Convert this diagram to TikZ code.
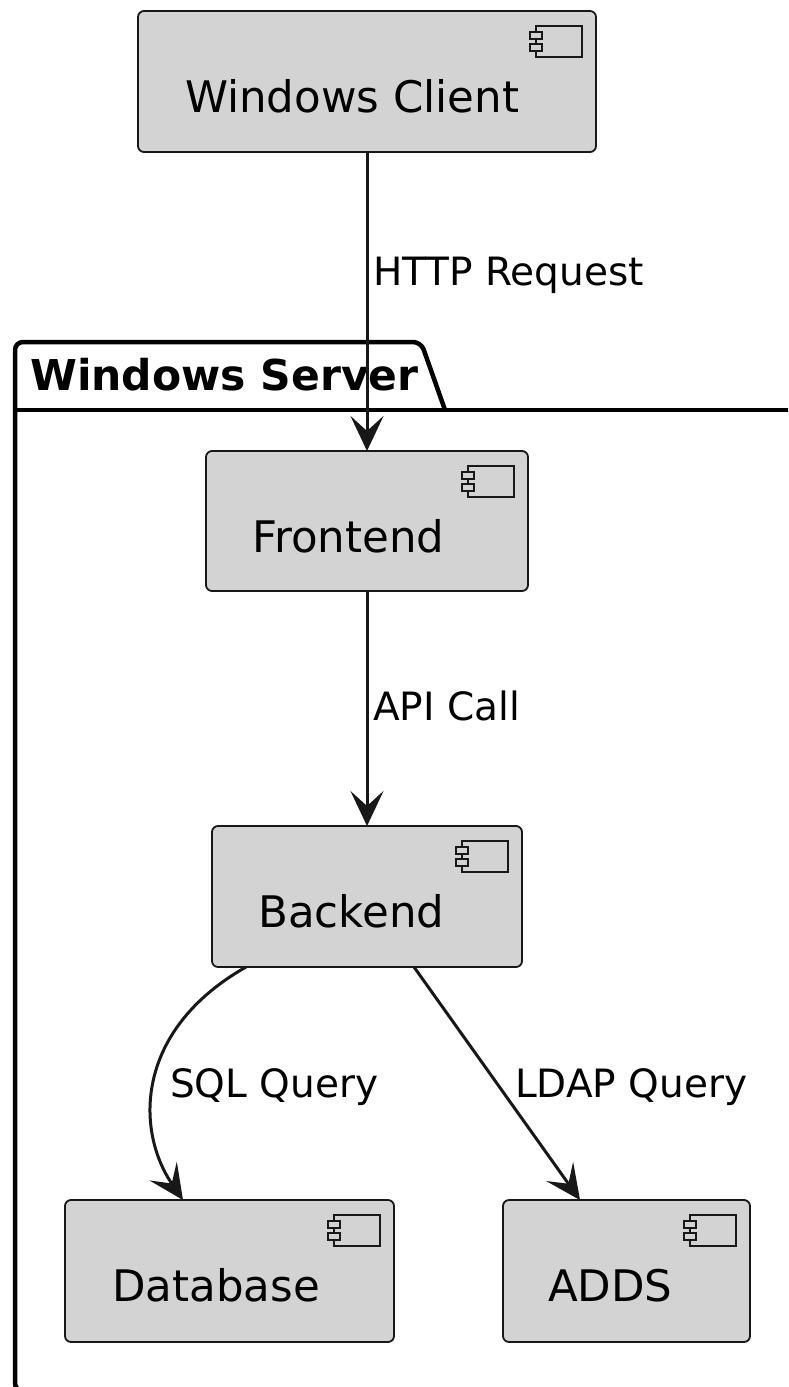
\documentclass[tikz,border=0pt]{standalone}
\usepackage{fontspec}
\setmainfont{DejaVu Sans}
\usetikzlibrary{arrows.meta,calc}
\definecolor{boxfill}{HTML}{D3D3D3}
\definecolor{ink}{HTML}{181818}
\tikzset{
 comp/.style={draw=ink, fill=boxfill, line width=1.8pt, rounded corners=6pt, inner sep=0pt, outer sep=0pt},
 ctext/.style={anchor=base west, inner sep=0pt, font=\fontsize{43.5}{52}\selectfont},
 elabel/.style={anchor=base west, inner sep=0pt, font=\fontsize{39}{46}\selectfont},
 conn/.style={draw=ink, line width=3pt, -{Stealth[length=35pt,width=33pt,inset=15pt]}},
 pkg/.style={draw=black, line width=4.5pt},
 icon/.style={draw=ink, line width=1.6pt, fill=boxfill}
}
\newcommand\compicon[1]{%
 \draw[icon] ($(#1.north east)+(-60,15)$) rectangle ($(#1.north east)+(-14,46)$);
 \draw[icon] ($(#1.north east)+(-66,21)$) rectangle ($(#1.north east)+(-54,28)$);
 \draw[icon] ($(#1.north east)+(-66,33)$) rectangle ($(#1.north east)+(-54,40)$);
}
\begin{document}
\begin{tikzpicture}[x=1pt,y=-1pt]
\useasboundingbox (0,0) rectangle (788,1387);
% package
\begin{scope}
\clip (0,0) rectangle (788,1387);
\draw[pkg, rounded corners=8pt] (820,1391) -- (15,1391) -- (15,342) -- (421,342) -- (445,410);
\draw[pkg] (15,410) -- (820,410);
\end{scope}
\node[font=\bfseries\fontsize{42.5}{50}\selectfont, anchor=base west, inner sep=0pt] (pkgt) at (30,390) {Windows Server};
% components
\node[comp, minimum width=458pt, minimum height=141pt] (wc) at (367,81.5) {};
\node[comp, minimum width=322pt, minimum height=140pt] (fe) at (367,521) {};
\node[comp, minimum width=310pt, minimum height=141pt] (be) at (367,896.5) {};
\node[comp, minimum width=329pt, minimum height=142pt] (db) at (229.5,1271) {};
\node[comp, minimum width=247pt, minimum height=142pt] (ad) at (626.5,1271) {};
\compicon{wc}
\compicon{fe}
\compicon{be}
\compicon{db}
\compicon{ad}
\node[ctext] (wct) at (185,112) {Windows Client};
\node[ctext] (fet) at (252,552) {Frontend};
\node[ctext] (bet) at (258,927) {Backend};
\node[ctext] (dbt) at (112,1301) {Database};
\node[ctext] (adt) at (548,1301) {ADDS};
% connectors
\draw[conn] (wc.south) -- (fe.north);
\draw[conn] (fe.south) -- (be.north);
\draw[conn] ([xshift=-121pt]be.south) .. controls (135,1030) and (135,1130) .. ([xshift=-46.5pt]db.north);
\draw[conn] ([xshift=47pt]be.south) -- ([xshift=-46.5pt]ad.north);
% labels
\node[elabel] (l1) at (373,285) {HTTP Request};
\node[elabel] (l2) at (373,720) {API Call};
\node[elabel] (l3) at (170,1097) {SQL Query};
\node[elabel] (l4) at (515,1097) {LDAP Query};
\end{tikzpicture}
\end{document}
